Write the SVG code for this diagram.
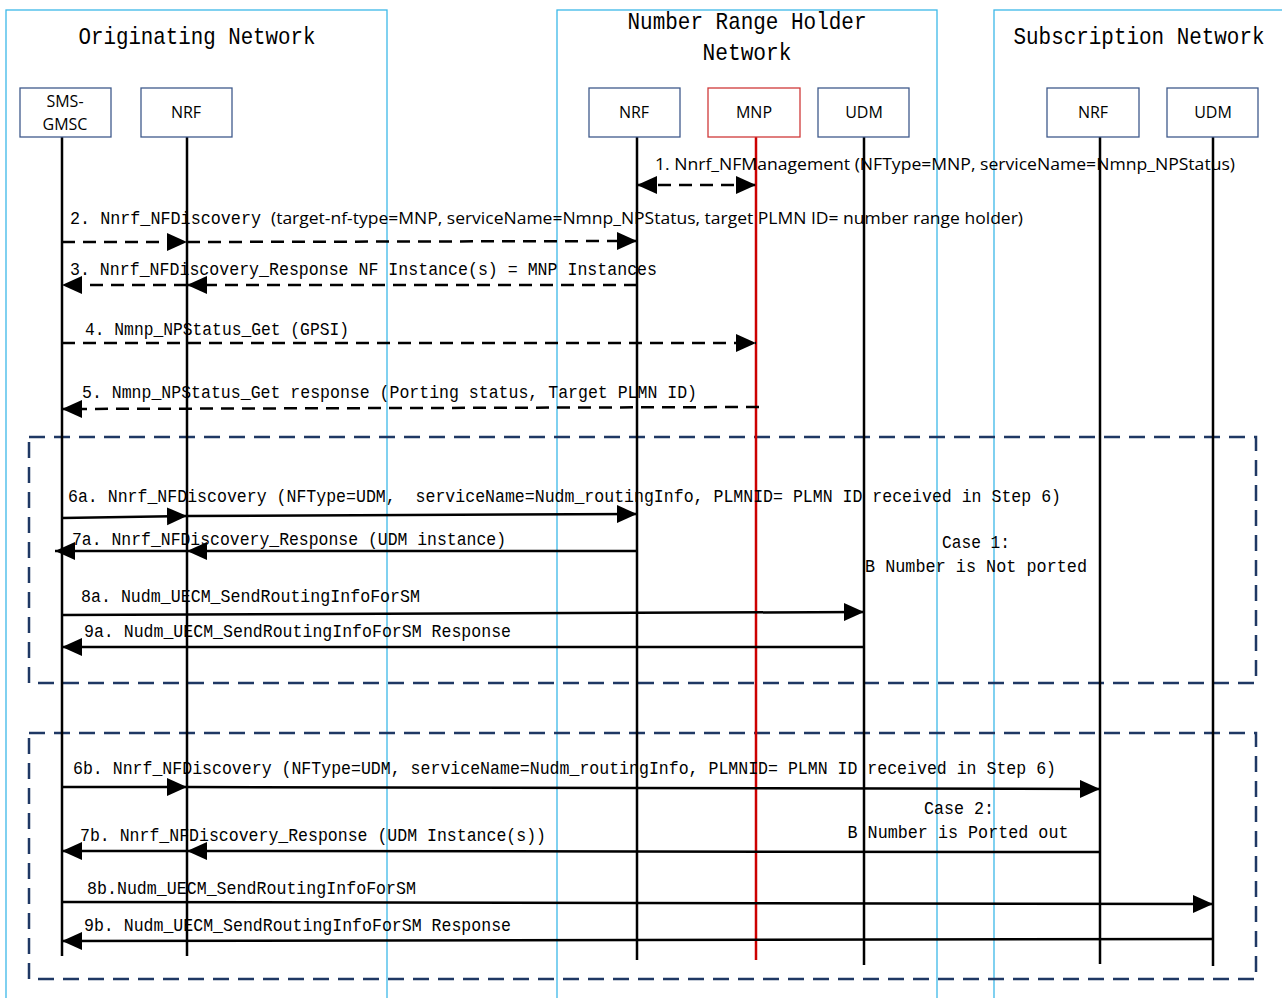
<svg xmlns="http://www.w3.org/2000/svg" width="1282" height="998" viewBox="0 0 1282 998">
<style>
.net{fill:none;stroke:#3cb8e8;stroke-width:1.3}
.box{fill:#fff;stroke:#3f5a8c;stroke-width:1.3}
.life{stroke:#000;stroke-width:2.5}
.ttl{font-family:"Liberation Mono",monospace;font-size:24px;fill:#000;text-anchor:middle}
.nl{font-family:"Open Sans","Liberation Sans",sans-serif;font-size:16px;fill:#000;text-anchor:middle}
.lb{font-family:"Liberation Mono",monospace;font-size:18.5px;fill:#000;white-space:pre}
.ls{font-family:"Liberation Sans Narrow","Open Sans","Liberation Sans",sans-serif;font-size:16.5px;fill:#000;white-space:pre}
.cs{font-family:"Liberation Mono",monospace;font-size:19px;fill:#000;text-anchor:middle}
.grp{fill:none;stroke:#1f3864;stroke-width:2.5;stroke-dasharray:16,9}
.m{stroke:#000;stroke-width:2.5;fill:none;marker-end:url(#ah)}
.d{stroke-dasharray:13,8}
</style>
<defs>
<marker id="ah" markerUnits="userSpaceOnUse" markerWidth="22" markerHeight="20" refX="20" refY="9" orient="auto-start-reverse">
<path d="M0,0 L20,9 L0,18 z" fill="#000"/>
</marker>
</defs>
<g id="networks">
<g id="net-orig"><rect class="net" x="6" y="10" width="381" height="995"/><text class="ttl" x="197" y="44" textLength="237" lengthAdjust="spacingAndGlyphs">Originating Network</text></g>
<g id="net-nrh"><rect class="net" x="557" y="10" width="380" height="995"/><text class="ttl" x="747" y="29" textLength="239" lengthAdjust="spacingAndGlyphs">Number Range Holder</text><text class="ttl" x="747" y="60" textLength="89" lengthAdjust="spacingAndGlyphs">Network</text></g>
<g id="net-sub"><rect class="net" x="994" y="10" width="300" height="995"/><text class="ttl" x="1139" y="44" textLength="251" lengthAdjust="spacingAndGlyphs">Subscription Network</text></g>
</g>
<g id="groups">
<rect class="grp" x="29" y="437" width="1227" height="246"/>
<rect class="grp" x="29" y="733" width="1227" height="246"/>
</g>
<g id="smsgmsc"><line class="life" x1="62" y1="137" x2="62" y2="956"/><rect class="box" x="20" y="88" width="91" height="49"/><text class="nl" x="65" y="107">SMS-</text><text class="nl" x="65" y="130">GMSC</text></g>
<g id="nrf-orig"><line class="life" x1="187" y1="137" x2="187" y2="956"/><rect class="box" x="141" y="88" width="91" height="49"/><text class="nl" x="186" y="118">NRF</text></g>
<g id="nrf-nrh"><line class="life" x1="637" y1="137" x2="637" y2="960"/><rect class="box" x="589" y="88" width="91" height="49"/><text class="nl" x="634" y="118">NRF</text></g>
<g id="mnp"><line x1="756" y1="137" x2="756" y2="960" stroke="#cc0000" stroke-width="2.5"/><rect x="708" y="88" width="92" height="49" fill="#fff" stroke="#d03a3a" stroke-width="1.3"/><text class="nl" x="754" y="118">MNP</text></g>
<g id="udm-nrh"><line class="life" x1="864" y1="137" x2="864" y2="965"/><rect class="box" x="818" y="88" width="91" height="49"/><text class="nl" x="864" y="118">UDM</text></g>
<g id="nrf-sub"><line class="life" x1="1100" y1="137" x2="1100" y2="964"/><rect class="box" x="1047" y="88" width="92" height="49"/><text class="nl" x="1093" y="118">NRF</text></g>
<g id="udm-sub"><line class="life" x1="1213" y1="137" x2="1213" y2="966"/><rect class="box" x="1167" y="88" width="91" height="49"/><text class="nl" x="1213" y="118">UDM</text></g>
<g id="connectors">
<line class="m d" x1="637" y1="185" x2="756" y2="185" style="marker-start:url(#ah)"/>
<line class="m d" x1="62" y1="242" x2="187" y2="242"/>
<line class="m d" x1="187" y1="242" x2="637" y2="241"/>
<line class="m d" x1="637" y1="285" x2="187" y2="285"/>
<line class="m d" x1="187" y1="285" x2="62" y2="285"/>
<line class="m d" x1="62" y1="343" x2="756" y2="343"/>
<line class="m d" x1="759" y1="407" x2="62" y2="409"/>
<line class="m" x1="62" y1="518" x2="187" y2="516"/>
<line class="m" x1="187" y1="516" x2="637" y2="514"/>
<line class="m" x1="637" y1="551" x2="187" y2="551"/>
<line class="m" x1="187" y1="551" x2="55" y2="551"/>
<line class="m" x1="62" y1="615" x2="864" y2="612"/>
<line class="m" x1="864" y1="647" x2="62" y2="647"/>
<line class="m" x1="62" y1="787" x2="187" y2="787"/>
<line class="m" x1="187" y1="787" x2="1100" y2="789"/>
<line class="m" x1="1100" y1="852" x2="187" y2="851"/>
<line class="m" x1="187" y1="851" x2="62" y2="851"/>
<line class="m" x1="62" y1="902" x2="1213" y2="904"/>
<line class="m" x1="1213" y1="939" x2="62" y2="941"/>
</g>
<g id="labels">
<text class="ls" x="655" y="170" textLength="580" lengthAdjust="spacingAndGlyphs">1. Nnrf_NFManagement (NFType=MNP, serviceName=Nmnp_NPStatus)</text>
<text class="lb" x="70" y="224" textLength="191" lengthAdjust="spacingAndGlyphs">2. Nnrf_NFDiscovery</text>
<text class="ls" x="271" y="224" textLength="752" lengthAdjust="spacingAndGlyphs">(target-nf-type=MNP, serviceName=Nmnp_NPStatus, target PLMN ID= number range holder)</text>
<text class="lb" x="70" y="275" textLength="587" lengthAdjust="spacingAndGlyphs">3. Nnrf_NFDiscovery_Response NF Instance(s) = MNP Instances</text>
<text class="lb" x="85" y="335" textLength="264" lengthAdjust="spacingAndGlyphs">4. Nmnp_NPStatus_Get (GPSI)</text>
<text class="lb" x="82" y="398" textLength="615" lengthAdjust="spacingAndGlyphs">5. Nmnp_NPStatus_Get response (Porting status, Target PLMN ID)</text>
<text class="lb" x="68" y="502" textLength="993" lengthAdjust="spacingAndGlyphs">6a. Nnrf_NFDiscovery (NFType=UDM,  serviceName=Nudm_routingInfo, PLMNID= PLMN ID received in Step 6)</text>
<text class="lb" x="72" y="545" textLength="434" lengthAdjust="spacingAndGlyphs">7a. Nnrf_NFDiscovery_Response (UDM instance)</text>
<text class="lb" x="81" y="602" textLength="339" lengthAdjust="spacingAndGlyphs">8a. Nudm_UECM_SendRoutingInfoForSM</text>
<text class="lb" x="84" y="637" textLength="427" lengthAdjust="spacingAndGlyphs">9a. Nudm_UECM_SendRoutingInfoForSM Response</text>
<text class="cs" x="976" y="548" textLength="68" lengthAdjust="spacingAndGlyphs">Case 1:</text>
<text class="cs" x="976" y="572" textLength="222" lengthAdjust="spacingAndGlyphs">B Number is Not ported</text>
<text class="lb" x="73" y="774" textLength="983" lengthAdjust="spacingAndGlyphs">6b. Nnrf_NFDiscovery (NFType=UDM, serviceName=Nudm_routingInfo, PLMNID= PLMN ID received in Step 6)</text>
<text class="cs" x="959" y="814" textLength="70" lengthAdjust="spacingAndGlyphs">Case 2:</text>
<text class="cs" x="958" y="838" textLength="221" lengthAdjust="spacingAndGlyphs">B Number is Ported out</text>
<text class="lb" x="80" y="841" textLength="466" lengthAdjust="spacingAndGlyphs">7b. Nnrf_NFDiscovery_Response (UDM Instance(s))</text>
<text class="lb" x="87" y="894" textLength="329" lengthAdjust="spacingAndGlyphs">8b.Nudm_UECM_SendRoutingInfoForSM</text>
<text class="lb" x="84" y="931" textLength="427" lengthAdjust="spacingAndGlyphs">9b. Nudm_UECM_SendRoutingInfoForSM Response</text>
</g>
</svg>
